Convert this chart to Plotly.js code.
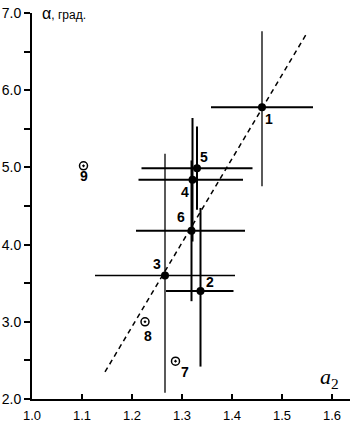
<!DOCTYPE html>
<html>
<head>
<meta charset="utf-8">
<script src="https://cdn.plot.ly/plotly-3.0.1.min.js"></script>
<style>html,body{margin:0;padding:0;background:#fff;}#chart{width:352px;height:425px;}</style>
</head>
<body>
<div id="chart"></div>
<script>
// Points with error bars (filled)
var pointLabels = ['1', '2', '3', '4', '5', '6'];
var pointX = [1.460, 1.337, 1.266, 1.321, 1.330, 1.319];
var pointY = [5.78, 3.40, 3.60, 4.84, 4.99, 4.18];
var errXPlus = [0.102, 0.066, 0.140, 0.101, 0.111, 0.107];
var errXMinus = [0.102, 0.069, 0.140, 0.108, 0.111, 0.111];
var errYPlus = [0.985, 1.075, 1.577, 0.80, 0.54, 0.91];
var errYMinus = [1.023, 0.980, 1.519, 0.80, 0.54, 0.913];

// Open circled points
var openLabels = ['7', '8', '9'];
var openX = [1.287, 1.226, 1.103];
var openY = [2.49, 3.00, 5.02];

// Dashed trend line end points
var lineX = [1.146, 1.548];
var lineY = [2.35, 6.72];

// Axis tick labels
var xTickVals = [1.0, 1.1, 1.2, 1.3, 1.4, 1.5, 1.6];
var xTickText = ['1.0', '1.1', '1.2', '1.3', '1.4', '1.5', '1.6'];
var yTickVals = [2, 3, 4, 5, 6, 7];
var yTickText = ['2.0', '3.0', '4.0', '5.0', '6.0', '7.0'];

// styles (not data)
var barStyle = {
  '1': {tx: 2, ty: 1.3},
  '2': {tx: 2, ty: 2},
  '3': {tx: 1.3, ty: 1.3},
  '4': {tx: 2, ty: 2},
  '5': {tx: 2, ty: 2},
  '6': {tx: 2, ty: 2}
};
var labelShift = {
  '1': [7, -12], '2': [9, 9], '3': [-8, 11], '4': [-8, -12], '5': [7, 11],
  '6': [-11, 14], '7': [9, -11], '8': [3, -14], '9': [0, -10]
};

var traces = [];
traces.push({
  x: lineX, y: lineY, type: 'scatter', mode: 'lines',
  line: {color: '#000', width: 1.5, dash: '5px,4px'},
  hoverinfo: 'skip', showlegend: false
});
for (var i = 0; i < pointLabels.length; i++) {
  var st = barStyle[pointLabels[i]];
  traces.push({
    x: [pointX[i]], y: [pointY[i]], type: 'scatter', mode: 'markers',
    marker: {color: '#000', size: 8},
    error_x: {type: 'data', symmetric: false, array: [errXPlus[i]], arrayminus: [errXMinus[i]], color: '#000', thickness: st.tx, width: 0},
    error_y: {type: 'data', symmetric: false, array: [errYPlus[i]], arrayminus: [errYMinus[i]], color: '#000', thickness: st.ty, width: 0},
    showlegend: false
  });
}
traces.push({
  x: openX, y: openY, type: 'scatter', mode: 'markers',
  marker: {symbol: 'circle-open-dot', color: '#000', size: 8, line: {color: '#000', width: 1.5}},
  showlegend: false
});

var annotations = [];
var allLabels = pointLabels.concat(openLabels);
var allX = pointX.concat(openX);
var allY = pointY.concat(openY);
for (var j = 0; j < allLabels.length; j++) {
  var sh = labelShift[allLabels[j]];
  annotations.push({
    x: allX[j], y: allY[j], xref: 'x', yref: 'y', text: allLabels[j], showarrow: false,
    xshift: sh[0], yshift: sh[1], xanchor: 'center', yanchor: 'middle',
    font: {family: 'Liberation Sans, Arial, sans-serif', size: 14, color: '#000', weight: 'bold'}
  });
}
annotations.push({
  xref: 'paper', yref: 'paper', x: 0.025, y: 1.0, xanchor: 'left', yanchor: 'middle',
  text: '<span style="font-size:16px">α</span>, град.', showarrow: false,
  font: {family: 'Liberation Sans, Arial, sans-serif', size: 12, color: '#000'}
});
annotations.push({
  xref: 'paper', yref: 'paper', x: 0.935, y: 0.055, xanchor: 'center', yanchor: 'middle',
  text: '<i>a</i><sub>2</sub>', showarrow: false,
  font: {family: 'Liberation Serif, Times New Roman, serif', size: 22, color: '#000'}
});

var layout = {
  width: 352, height: 425,
  margin: {l: 32, r: 2, t: 13, b: 26, pad: 0},
  paper_bgcolor: '#fff', plot_bgcolor: '#fff',
  showlegend: false,
  font: {family: 'Liberation Sans, Arial, sans-serif', size: 13, color: '#000'},
  xaxis: {
    range: [1.0, 1.636], tickmode: 'array', tickvals: xTickVals, ticktext: xTickText,
    ticks: 'inside', ticklen: 5, tickwidth: 2, tickcolor: '#000', ticklabelstandoff: 3,
    showline: true, linecolor: '#000', linewidth: 2, showgrid: false, zeroline: false,
    tickfont: {size: 13}
  },
  yaxis: {
    range: [2, 7], tickmode: 'array', tickvals: yTickVals, ticktext: yTickText,
    ticks: 'outside', ticklen: 6, tickwidth: 2, tickcolor: '#000',
    minor: {dtick: 0.5, ticks: 'outside', ticklen: 6, tickwidth: 2, tickcolor: '#000', showgrid: false},
    showline: true, linecolor: '#000', linewidth: 2, showgrid: false, zeroline: false,
    tickfont: {size: 14}
  },
  annotations: annotations
};

Plotly.newPlot('chart', traces, layout, {displayModeBar: false, staticPlot: true});
</script>
</body>
</html>
